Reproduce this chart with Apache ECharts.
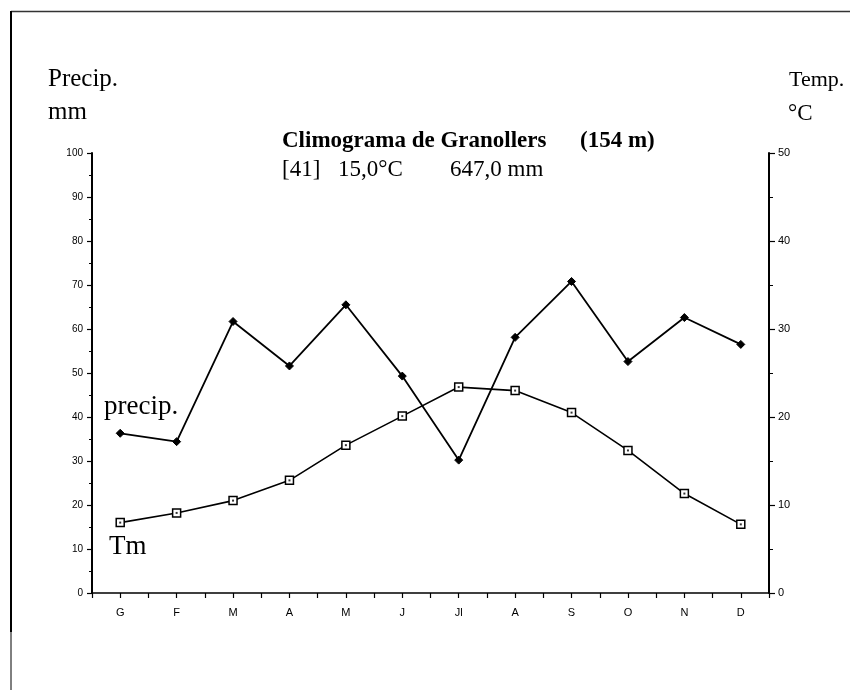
<!DOCTYPE html>
<html>
<head>
<meta charset="utf-8">
<script src="https://cdn.jsdelivr.net/npm/echarts@6/dist/echarts.min.js"></script>
<style>
html,body{margin:0;padding:0;background:#fff;}
#chart{width:850px;height:690px;}
</style>
</head>
<body>
<div id="chart"></div>
<script>
const months = ['G','F','M','A','M','J','Jl','A','S','O','N','D'];
const precip = [36.3, 34.4, 61.7, 51.6, 65.5, 49.3, 30.2, 58.1, 70.8, 52.6, 62.6, 56.5];
const tm = [8.0, 9.1, 10.5, 12.8, 16.8, 20.1, 23.4, 23.0, 20.5, 16.2, 11.3, 7.8];
const titleMain = 'Climograma de Granollers';
const titleAlt = '(154 m)';
const subParts = ['[41]', '15,0°C', '647,0 mm'];

const chart = echarts.init(document.getElementById('chart'), null, {renderer:'canvas'});
const serif = '"Liberation Serif", "DejaVu Serif", serif';
const sans = '"Liberation Sans", Arial, sans-serif';
const black = '#000';

chart.setOption({
  animation: false,
  backgroundColor: '#fff',
  grid: {left: 92, right: 81, top: 153, bottom: 97, containLabel: false},
  xAxis: [{
    type: 'category', data: months, boundaryGap: true,
    axisLine: {lineStyle: {color: black, width: 1.5}},
    axisTick: {show: false},
    axisLabel: {color: black, fontFamily: sans, fontSize: 11, margin: 14}
  }, {
    type: 'value', min: 0, max: 24, interval: 1, position: 'bottom',
    axisLine: {show: false},
    axisTick: {show: true, length: 5, lineStyle: {color: black, width: 1.2}},
    axisLabel: {show: false}, splitLine: {show: false}
  }],
  yAxis: [{
    type: 'value', min: 0, max: 100, interval: 10, position: 'left',
    axisLine: {show: true, lineStyle: {color: black, width: 2}},
    axisTick: {show: true, length: 5, lineStyle: {color: black, width: 1.2}},
    minorTick: {show: true, splitNumber: 2, length: 3, lineStyle: {color: black, width: 1}},
    axisLabel: {color: black, fontFamily: sans, fontSize: 10, margin: 9},
    splitLine: {show: false}
  }, {
    type: 'value', min: 0, max: 50, interval: 10, position: 'right',
    axisLine: {show: true, lineStyle: {color: black, width: 2}},
    axisTick: {show: true, length: 6, lineStyle: {color: black, width: 1.2}},
    minorTick: {show: true, splitNumber: 2, length: 4, lineStyle: {color: black, width: 1}},
    axisLabel: {color: black, fontFamily: sans, fontSize: 11, margin: 9},
    splitLine: {show: false}
  }],
  series: [{
    name: 'precip', type: 'line', xAxisIndex: 0, yAxisIndex: 0, data: precip,
    symbol: 'diamond', symbolSize: 8,
    lineStyle: {color: black, width: 1.8},
    itemStyle: {color: black, borderColor: black}
  }, {
    name: 'Tm', type: 'line', xAxisIndex: 0, yAxisIndex: 1, data: tm,
    symbol: 'rect', symbolSize: 8,
    lineStyle: {color: black, width: 1.6},
    itemStyle: {color: '#fff', borderColor: black, borderWidth: 1.5}
  }, {
    name: 'Tm dot', type: 'scatter', xAxisIndex: 0, yAxisIndex: 1, data: tm,
    symbol: 'rect', symbolSize: 2, silent: true, z: 10,
    itemStyle: {color: black}
  }],
  graphic: [
    {type: 'line', shape: {x1: 11, y1: 11.5, x2: 850, y2: 11.5}, style: {stroke: '#333', lineWidth: 1.5}},
    {type: 'line', shape: {x1: 11, y1: 11, x2: 11, y2: 632}, style: {stroke: '#000', lineWidth: 2}},
    {type: 'line', shape: {x1: 11, y1: 632, x2: 11, y2: 690}, style: {stroke: '#000', lineWidth: 1}},
    {type: 'text', left: 48, top: 67, style: {text: 'Precip.', font: '25px ' + serif, fill: black}},
    {type: 'text', left: 48, top: 100, style: {text: 'mm', font: '25px ' + serif, fill: black}},
    {type: 'text', left: 789, top: 69, style: {text: 'Temp.', font: '22px ' + serif, fill: black}},
    {type: 'text', left: 788, top: 102, style: {text: '°C', font: '23px ' + serif, fill: black}},
    {type: 'text', left: 282, top: 130, style: {text: titleMain, font: 'bold 23px ' + serif, fill: black}},
    {type: 'text', left: 580, top: 130, style: {text: titleAlt, font: 'bold 23px ' + serif, fill: black}},
    {type: 'text', left: 282, top: 158, style: {text: subParts[0], font: '23px ' + serif, fill: black}},
    {type: 'text', left: 338, top: 158, style: {text: subParts[1], font: '23px ' + serif, fill: black}},
    {type: 'text', left: 450, top: 158, style: {text: subParts[2], font: '23px ' + serif, fill: black}},
    {type: 'text', left: 104, top: 393, style: {text: 'precip.', font: '27px ' + serif, fill: black}},
    {type: 'text', left: 109, top: 533, style: {text: 'Tm', font: '27px ' + serif, fill: black}}
  ]
});
</script>
</body>
</html>
